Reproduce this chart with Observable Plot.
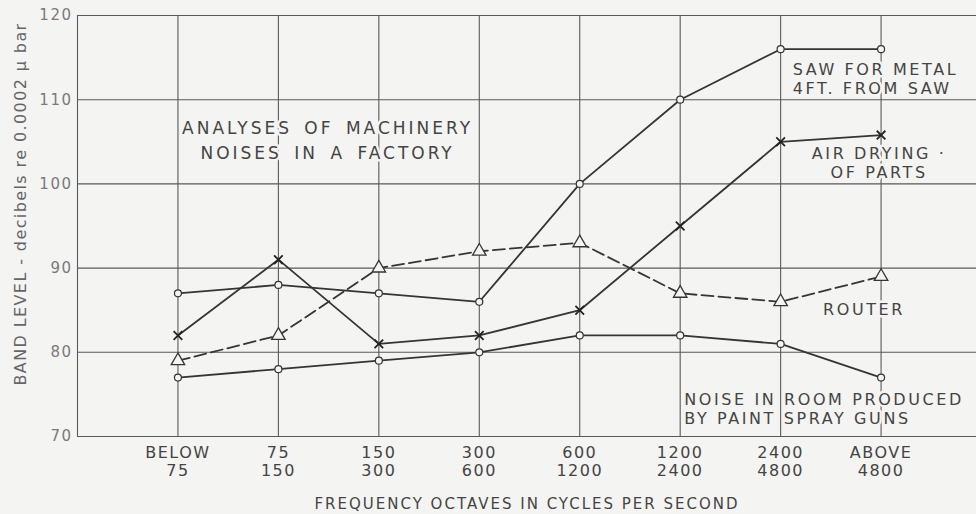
<!DOCTYPE html>
<html>
<head>
<meta charset="utf-8">
<script src="https://cdn.jsdelivr.net/npm/d3@7"></script>
<script src="https://cdn.jsdelivr.net/npm/@observablehq/plot@0.6"></script>
<style>
  html, body { margin: 0; padding: 0; background: #f4f4f2; }
  #chart svg { display: block; }
  .note text { letter-spacing: 2.6px; }
  .title text { letter-spacing: 3px; word-spacing: 4px; }
  .xtick text { letter-spacing: 1.5px; }
  .ytick text { letter-spacing: 1.5px; }
  .xtitle text { letter-spacing: 2px; }
  .ytitle text { letter-spacing: 1.4px; }
</style>
</head>
<body>
<div id="chart"></div>
<script>
// ---- data ----
const categories = ["BELOW\n75", "75\n150", "150\n300", "300\n600", "600\n1200", "1200\n2400", "2400\n4800", "ABOVE\n4800"];
const yTicks = [70, 80, 90, 100, 110, 120];
const saw = [87, 88, 87, 86, 100, 110, 116, 116];          // saw for metal, 4 ft from saw
const airDrying = [82, 91, 81, 82, 85, 95, 105, 105.8];    // air drying of parts
const router = [79, 82, 90, 92, 93, 87, 86, 89];            // router
const paintSpray = [77, 78, 79, 80, 82, 82, 81, 77];        // paint spray guns

const rows = (vals, name) => vals.map((v, i) => ({i: i + 1, v, name, cat: categories[i]}));
const sawRows = rows(saw, "saw");
const airRows = rows(airDrying, "air");
const routerRows = rows(router, "router");
const paintRows = rows(paintSpray, "paint");

const BG = "#f4f4f2";
const INK = "#353535";
const TXT = "#444";
const FONT = "DejaVu Sans";

const halo = {stroke: BG, strokeWidth: 5, fill: TXT, fontFamily: FONT};

const chart = Plot.plot({
  width: 976,
  height: 514,
  marginTop: 15,
  marginBottom: 78,
  marginLeft: 77,
  marginRight: 0,
  style: {background: BG, fontFamily: FONT, overflow: "visible"},
  x: {type: "linear", domain: [0, 8.95], axis: null},
  y: {domain: [70, 120], axis: null},
  marks: [
    // grid
    Plot.ruleY(yTicks, {stroke: "#5a5a5a", strokeWidth: 1.1}),
    Plot.ruleX(d3.range(0, 9), {y1: 70, y2: 120, stroke: "#5a5a5a", strokeWidth: 1.1}),
    // annotations (with halo that breaks the grid like the original)
    Plot.text(["ANALYSES OF MACHINERY\nNOISES IN A FACTORY"], {x: 2.49, y: 105.4, text: d => d, fontSize: 17, lineHeight: 1.5, textAnchor: "middle", className: "title", ...halo}),
    Plot.text(["SAW FOR METAL\n4FT. FROM SAW"], {x: 7.12, y: 112.5, text: d => d, fontSize: 16, lineHeight: 1.18, textAnchor: "start", className: "note", ...halo}),
    Plot.text(["AIR DRYING ·\nOF PARTS"], {x: 7.98, y: 102.5, text: d => d, fontSize: 16, lineHeight: 1.18, textAnchor: "middle", className: "note", ...halo}),
    Plot.text(["ROUTER"], {x: 7.83, y: 85, text: d => d, fontSize: 16, textAnchor: "middle", className: "note", ...halo}),
    Plot.text(["NOISE IN ROOM PRODUCED\nBY PAINT SPRAY GUNS"], {x: 6.04, y: 73.3, text: d => d, fontSize: 16, lineHeight: 1.2, textAnchor: "start", className: "note", ...halo}),
    // series lines
    Plot.line(sawRows, {x: "i", y: "v", stroke: INK, strokeWidth: 1.8}),
    Plot.line(airRows, {x: "i", y: "v", stroke: INK, strokeWidth: 1.8}),
    Plot.line(routerRows, {x: "i", y: "v", stroke: INK, strokeWidth: 1.8, strokeDasharray: "12,5"}),
    Plot.line(paintRows, {x: "i", y: "v", stroke: INK, strokeWidth: 1.8}),
    // markers
    Plot.dot(sawRows, {x: "i", y: "v", symbol: "circle", r: 3.5, fill: BG, stroke: INK, strokeWidth: 1.2}),
    Plot.dot(paintRows, {x: "i", y: "v", symbol: "circle", r: 3.5, fill: BG, stroke: INK, strokeWidth: 1.2}),
    Plot.dot(routerRows, {x: "i", y: "v", symbol: "triangle", r: 5, fill: BG, stroke: INK, strokeWidth: 1.3}),
    Plot.dot(airRows, {x: "i", y: "v", symbol: "times", r: 4, stroke: "#222", strokeWidth: 1.8}),
    // x tick labels
    Plot.text(categories, {x: (d, i) => i + 1, frameAnchor: "bottom", text: d => d, dy: 9, lineAnchor: "top", fontSize: 16, lineHeight: 1.1, textAnchor: "middle", fill: TXT, fontFamily: FONT, className: "xtick"}),
    // y tick labels
    Plot.text(yTicks, {y: d => d, frameAnchor: "left", text: d => String(d), dx: -5, textAnchor: "end", fontSize: 15, fill: "#7a7a7a", fontFamily: FONT, className: "ytick"}),
    // axis titles
    Plot.text(["FREQUENCY OCTAVES IN CYCLES PER SECOND"], {frameAnchor: "bottom", text: d => d, dy: 68, lineAnchor: "middle", fontSize: 15, fill: TXT, fontFamily: FONT, className: "xtitle"}),
    Plot.text(["BAND LEVEL - decibels re 0.0002 μ bar"], {frameAnchor: "left", text: d => d, rotate: -90, dx: -57, dy: -22, textAnchor: "middle", lineAnchor: "middle", fontSize: 16, fill: "#666", fontFamily: FONT, className: "ytitle"})
  ]
});

document.getElementById("chart").appendChild(chart);
</script>
</body>
</html>
